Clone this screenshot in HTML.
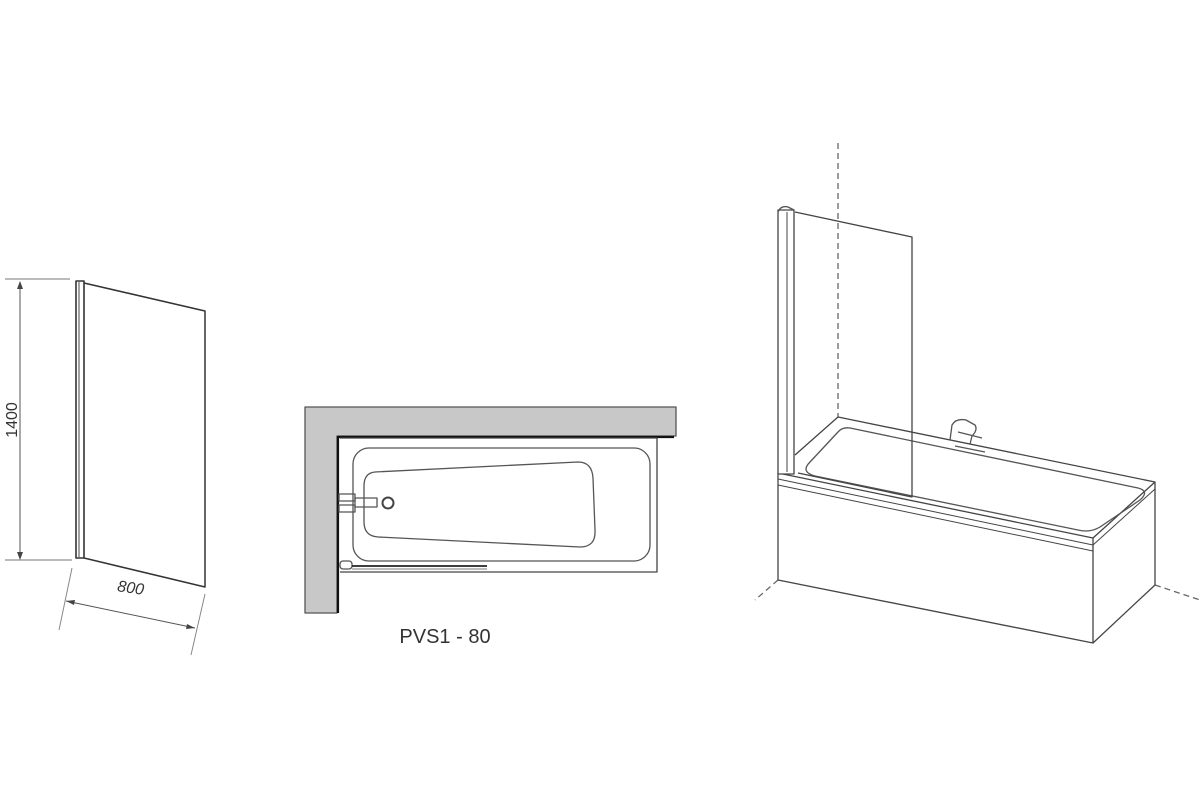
<!DOCTYPE html>
<html><head><meta charset="utf-8"><style>
html,body{margin:0;padding:0;background:#fff;}
svg{display:block;}
text{font-family:"Liberation Sans",Arial,sans-serif;fill:#333;}
</style></head><body>
<svg width="1200" height="800" viewBox="0 0 1200 800" xmlns="http://www.w3.org/2000/svg">
<g fill="none" stroke="#444" stroke-width="1.3" stroke-linejoin="round">
<!-- LEFT PANEL -->
<line x1="5" y1="279" x2="70" y2="279" stroke="#777" stroke-width="1"/>
<line x1="5" y1="560" x2="72" y2="560" stroke="#777" stroke-width="1"/>
<line x1="20" y1="282" x2="20" y2="557" stroke="#555" stroke-width="1"/>
<path d="M20 281 l-3 8 h6 z M20 560 l-3 -8 h6 z" fill="#444" stroke="none"/>
<rect x="76" y="281" width="8" height="277" stroke="#333" stroke-width="1.6"/>
<line x1="79" y1="282" x2="79" y2="557" stroke-width="1"/>
<path d="M84 283 L205 311 L205 587 L84 558" stroke="#333" stroke-width="1.5"/>
<line x1="72" y1="568" x2="59" y2="630" stroke="#888" stroke-width="1"/>
<line x1="205" y1="594" x2="191" y2="655" stroke="#888" stroke-width="1"/>
<line x1="66" y1="601" x2="195" y2="628" stroke="#555" stroke-width="1"/>
<path d="M66 601 l9 -1 l-1 5 z M195 628 l-9 1 l1 -5 z" fill="#444" stroke="none"/>

<!-- MIDDLE PLAN -->
<path d="M305 407 H676 V436 H337 V613 H305 Z" fill="#c8c8c8" stroke="#555"/>
<path d="M338 613 V437 H674" stroke="#111" stroke-width="2.2"/>
<path d="M340 438 H657 V572 H340" stroke="#444"/>
<rect x="353" y="448" width="297" height="113" rx="16" stroke="#555"/>
<path d="M375 472 L578 462 Q592 462 593 478 L595 530 Q596 547 580 547 L378 537 Q364 536 364 522 L364 486 Q364 473 375 472 Z" stroke="#555"/>
<circle cx="388" cy="503" r="5.5" stroke="#444" stroke-width="2"/>
<rect x="339" y="494" width="16" height="7" stroke="#555"/>
<rect x="339" y="505" width="16" height="7" stroke="#555"/>
<rect x="355" y="498" width="22" height="9" stroke="#555"/>
<rect x="340" y="561" width="12" height="8" rx="3" stroke="#555"/>
<line x1="352" y1="566" x2="487" y2="566" stroke="#222" stroke-width="1.8"/>
<line x1="352" y1="569" x2="487" y2="569" stroke="#777" stroke-width="1"/>

<!-- RIGHT ISO -->
<line x1="838" y1="143" x2="838" y2="417" stroke="#666" stroke-dasharray="6,4"/>
<line x1="778" y1="580" x2="755" y2="600" stroke="#666" stroke-dasharray="6,4"/>
<line x1="1155" y1="585" x2="1200" y2="600" stroke="#666" stroke-dasharray="6,4"/>
<!-- tub -->
<path d="M838 417 L1155 482 L1155 585 L1093 643 L778 580 L778 473"/>
<path d="M838 417 L795 455"/>
<path d="M778 473 L1093 538 L1155 482"/>
<path d="M778 479 L1093 545 L1155 489" stroke-width="1"/>
<path d="M778 485 L1093 551" stroke-width="1"/>
<line x1="1093" y1="538" x2="1093" y2="643"/>
<path d="M850 428 L1138 488 Q1150 491 1140 500 L1100 527 Q1090 533 1078 530 L815 476 Q800 472 810 462 L838 432 Q842 427 850 428 Z" stroke="#555"/>
<!-- faucet -->
<path d="M950 440 L952 425 Q956 418 966 420 L975 425 Q978 430 972 436 L970 444 M958 432 L982 438 M955 446 L985 452" stroke="#555"/>
<!-- post & panel -->
<rect x="778" y="210" width="16" height="264" fill="#fff" stroke="#444"/>
<line x1="787" y1="212" x2="787" y2="472" stroke-width="1"/>
<path d="M778 212 Q781 205 788 207 L794 210" stroke="#555"/>
<path d="M795 212 L912 237 L912 497 L798 473" stroke="#444"/>
</g>
<text x="0" y="0" font-size="16" transform="translate(17,420) rotate(-90)" text-anchor="middle">1400</text>
<text x="0" y="0" font-size="16" font-style="italic" transform="translate(130,593) rotate(8)" text-anchor="middle">800</text>
<text x="445" y="643" font-size="20" text-anchor="middle">PVS1 - 80</text>
</svg>
</body></html>
